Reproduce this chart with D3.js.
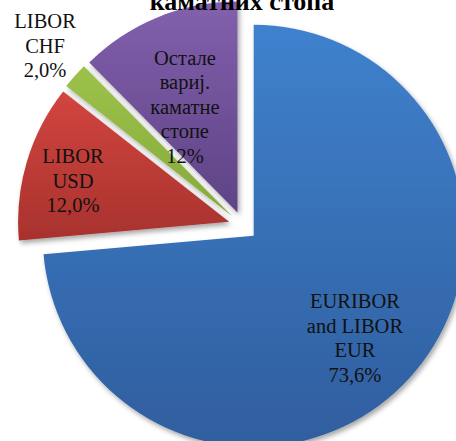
<!DOCTYPE html>
<html><head><meta charset="utf-8">
<script src="https://cdn.jsdelivr.net/npm/d3@7"></script>
<style>body{margin:0;background:#fff;overflow:hidden}svg{display:block}
text{font-family:"Liberation Serif","Times New Roman",serif}</style>
</head><body>
<svg id="c" width="456" height="441"></svg>
<script>
const title = "каматних стопа";
const categories = ["EURIBOR and LIBOR EUR", "LIBOR USD", "LIBOR CHF", "Остале вариј. каматне стопе"];
const values = [73.6, 12.0, 2.0, 12.4];
const labelLines = [
  ["EURIBOR", "and LIBOR", "EUR", "73,6%"],
  ["LIBOR", "USD", "12,0%"],
  ["LIBOR", "CHF", "2,0%"],
  ["Остале", "вариј.", "каматне", "стопе", "12%"]
];
const colorsTop = ["#3f81cd", "#d2453f", "#9dc24b", "#8260ad"];
const colorsBottom = ["#2f5e9e", "#a8322e", "#86a93a", "#5e4385"];

const W = 456, H = 441;
const cx = 243, cy = 226, R = 211, explode = 14.5;
// label placement: radius factor and angular shift (degrees) relative to slice bisector
const labelFactor = [0.682, 0.765, 1.2, 0.56];
const labelShift = [2.8, -1.8, 0.6, -4.1];

const svg = d3.select("#c");
const defs = svg.append("defs");
const f = defs.append("filter").attr("id", "sh").attr("x", "-10%").attr("y", "-10%").attr("width", "130%").attr("height", "130%");
f.append("feDropShadow").attr("dx", 2).attr("dy", 3).attr("stdDeviation", 2.5).attr("flood-color", "#000").attr("flood-opacity", 0.35);

categories.forEach((c, i) => {
  const g = defs.append("linearGradient").attr("id", "g" + i).attr("x1", 0).attr("y1", 0).attr("x2", 0).attr("y2", 1);
  g.append("stop").attr("offset", "0%").attr("stop-color", colorsTop[i]);
  g.append("stop").attr("offset", "100%").attr("stop-color", colorsBottom[i]);
});

const pie = d3.pie().sort(null).value(d => d)(values);
const arc = d3.arc().innerRadius(0).outerRadius(R);

const root = svg.append("g");
pie.forEach((p, i) => {
  const mid = (p.startAngle + p.endAngle) / 2;
  const ox = cx + explode * Math.sin(mid), oy = cy - explode * Math.cos(mid);
  const g = root.append("g").attr("transform", `translate(${ox},${oy})`);
  g.append("path").attr("d", arc(p)).attr("fill", `url(#g${i})`).attr("filter", "url(#sh)");
});

pie.forEach((p, i) => {
  const mid = (p.startAngle + p.endAngle) / 2;
  const ox = cx + explode * Math.sin(mid), oy = cy - explode * Math.cos(mid);
  const la = mid + labelShift[i] * Math.PI / 180;
  const lr = R * labelFactor[i];
  const lx = ox + lr * Math.sin(la), ly = oy - lr * Math.cos(la);
  const lines = labelLines[i];
  const lh = 24.5;
  const t = svg.append("text").attr("text-anchor", "middle")
    .style("font-family", "'Liberation Serif', 'Times New Roman', serif")
    .attr("font-size", "20.5px").attr("fill", "#111");
  lines.forEach((l, k) => {
    t.append("tspan").attr("x", lx).attr("y", ly + (k - (lines.length - 1) / 2) * lh + 7).text(l);
  });
});

svg.append("text").attr("x", 242).attr("y", 10).attr("text-anchor", "middle")
  .style("font-family", "'Liberation Serif', 'Times New Roman', serif")
  .attr("font-weight", "bold").attr("font-size", "26px").attr("fill", "#000").text(title);
</script>
</body></html>
